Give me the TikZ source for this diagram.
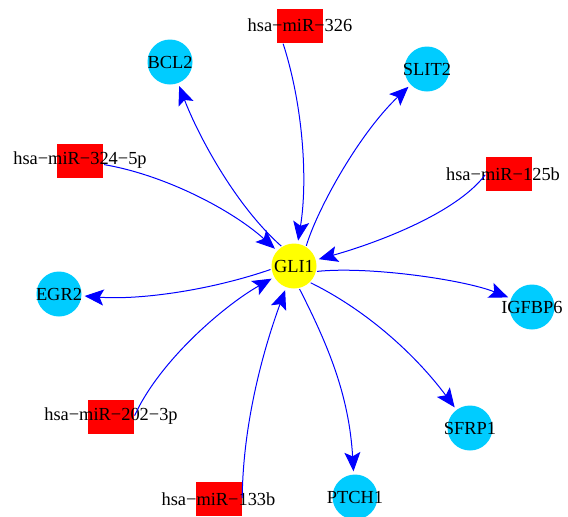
\documentclass[tikz,border=0pt]{standalone}
\usepackage{fontspec}
\setmainfont{Liberation Serif}
\usetikzlibrary{arrows.meta}
\definecolor{mirred}{RGB}{255,0,0}
\definecolor{genecyan}{RGB}{0,204,255}
\definecolor{hubyellow}{RGB}{255,255,0}
\definecolor{edgeblue}{RGB}{0,0,255}
\newcommand{\zw}[1]{\makebox[0pt]{#1}}
\begin{document}
\begin{tikzpicture}[x=1pt,y=-1pt,
  lbl/.style={font=\fontsize{18.4}{20}\selectfont, inner sep=0pt, text=black},
  gene/.style={circle, fill=genecyan, minimum size=45pt, inner sep=0pt, lbl},
  hub/.style={circle, fill=hubyellow, minimum size=45pt, inner sep=0pt, lbl},
  mir/.style={rectangle, fill=mirred, minimum width=46pt, minimum height=34pt, inner sep=0pt},
  reg/.style={draw=edgeblue, line width=1pt, -{Stealth[length=19pt,width=16pt,inset=4pt]}, shorten >=3pt, shorten <=1pt}
]
\useasboundingbox (0,0) rectangle (568,517);
\clip (0,0) rectangle (568,517);

% genes
\node[hub]  (GLI1)   at (294,266) {\zw{GLI1}};
\node[gene] (BCL2)   at (170,62)  {\zw{BCL2}};
\node[gene] (SLIT2)  at (427,69)  {\zw{SLIT2}};
\node[gene] (EGR2)   at (59,294)  {\zw{EGR2}};
\node[gene] (IGFBP6) at (532,307) {\zw{IGFBP6}};
\node[gene] (SFRP1)  at (470,428) {\zw{SFRP1}};
\node[gene] (PTCH1)  at (355,497) {\zw{PTCH1}};

% miRNAs
\node[mir] (m326)  at (300,25.5)  {};
\node[mir] (m324)  at (80,160.5)  {};
\node[mir] (m125b) at (509,174)   {};
\node[mir] (m202)  at (111,416.5) {};
\node[mir] (m133b) at (219,499)   {};
\node[lbl] (t326)  at (300,25.5)  {hsa−miR−326};
\node[lbl] (t324)  at (80,160.5)  {hsa−miR−324−5p};
\node[lbl] (t125b) at (503,174)   {hsa−miR−125b};
\node[lbl] (t202)  at (111,416.5) {hsa−miR−202−3p};
\node[lbl] (t133b) at (218.5,499) {hsa−miR−133b};

% miRNA -> GLI1
\draw[reg] ([xshift=6pt]m326.south west) .. controls (303,105) and (308,180) .. (GLI1);
\draw[reg] (m324) .. controls (165,175) and (232,210) .. (GLI1);
\draw[reg] (m125b.west) .. controls (455,215) and (370,245) .. (GLI1);
\draw[reg] (m202.east) .. controls (160,360) and (225,305) .. (GLI1);
\draw[reg] (m133b.east) .. controls (243,420) and (265,345) .. (GLI1);

% GLI1 -> targets
\draw[reg] (GLI1.122) .. controls (235,205) and (198,135) .. (BCL2);
\draw[reg] (GLI1.58) .. controls (317,210) and (358,135) .. (SLIT2);
\draw[reg] (GLI1.188) .. controls (205,292) and (135,300) .. (EGR2);
\draw[reg] (GLI1.-14) .. controls (370,266) and (465,280) .. (IGFBP6);
\draw[reg] (GLI1.-46) .. controls (370,312) and (418,358) .. (SFRP1);
\draw[reg] (GLI1.-77) .. controls (328,345) and (349,395) .. (PTCH1);
\end{tikzpicture}
\end{document}
